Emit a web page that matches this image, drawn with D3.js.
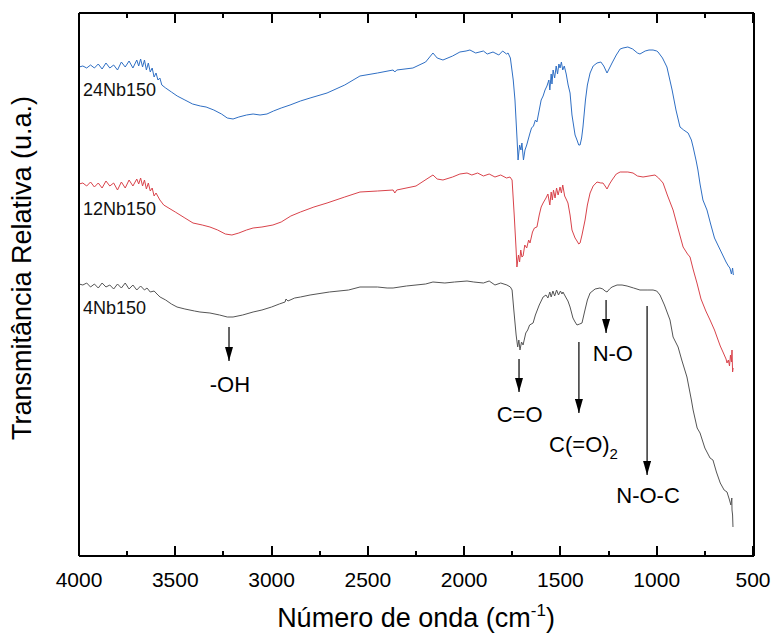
<!DOCTYPE html>
<html>
<head>
<meta charset="utf-8">
<script src="https://cdn.jsdelivr.net/npm/d3@7"></script>
<style>
  html, body { margin: 0; padding: 0; background: #fff; overflow: hidden; }
  svg { display: block; font-family: "Liberation Sans", Arial, sans-serif; }
</style>
</head>
<body>
<svg id="chart" width="773" height="637"></svg>
<script>
// ---------- DATA (wavenumber cm-1, relative transmittance a.u.) ----------
const wn24 = [4000,3980,3960,3940,3920,3900,3880,3860,3840,3820,3800,3780,3760,3740,3720,3700,3690,3680,3670,3660,3650,3640,3630,3620,3610,3600,3590,3580,3570,3550,3520,3490,3450,3410,3370,3340,3300,3260,3230,3200,3170,3130,3096,3060,3024,2990,2950,2904,2850,2800,2712,2620,2541,2450,2369,2360,2350,2266,2200,2162,2140,2110,2060,2022,1990,1970,1940,1900,1880,1850,1820,1800,1780,1772,1760,1745,1736,1725,1720,1712,1705,1700,1692,1684,1675,1668,1658,1650,1640,1630,1622,1610,1600,1590,1580,1570,1560,1555,1548,1544,1538,1530,1522,1515,1508,1502,1495,1488,1480,1470,1460,1450,1440,1424,1414,1405,1398,1390,1383,1370,1360,1346,1330,1310,1290,1275,1258,1245,1232,1210,1190,1175,1150,1125,1100,1087,1060,1040,1019,1000,993,970,947,920,900,879,860,837,820,811,795,786,775,760,739,720,700,680,660,640,628,620,612,606,602];
const t24  = [489,490,488,491,488,492,487,493,488,491,486,494,489,495,488,496,490,497,489,496,486,493,484,488,479,483,476,478,471,468,464,460,456,452,450,449,446,442,438,437,439,441,442,441,442,445,448,451,455,458,463,471,480,483,486,484,486,488,494,503,498,496,500,504,505,506,503,505,502,504,501,505,502,503,498,476,456,416,396,411,406,413,396,406,411,416,423,428,430,436,434,446,456,460,466,470,476,466,482,472,486,478,490,482,492,488,494,486,490,482,471,463,441,421,416,411,411,418,429,456,471,483,490,493,494,490,483,488,493,501,507,508,509,507,503,502,505,506,506,505,504,498,489,466,446,429,426,423,416,409,395,386,372,356,346,332,318,310,302,294,290,288,282,288,281];

const wn12 = [4000,3980,3960,3940,3920,3900,3880,3860,3840,3820,3800,3780,3760,3740,3720,3700,3690,3680,3670,3660,3650,3640,3630,3620,3610,3600,3580,3560,3543,3500,3450,3408,3360,3320,3280,3240,3206,3170,3130,3096,3050,2993,2950,2900,2850,2780,2712,2620,2541,2450,2369,2360,2350,2250,2162,2140,2110,2060,2022,1985,1960,1930,1900,1870,1840,1810,1780,1762,1751,1740,1730,1726,1718,1712,1706,1700,1694,1685,1675,1665,1658,1645,1635,1622,1610,1600,1590,1575,1565,1555,1548,1542,1536,1528,1520,1512,1502,1495,1488,1478,1468,1461,1450,1440,1424,1414,1405,1398,1388,1372,1360,1346,1330,1310,1290,1279,1268,1258,1245,1232,1210,1190,1175,1150,1123,1100,1071,1040,1009,990,967,945,915,890,863,840,827,810,791,770,745,723,700,687,670,656,640,635,628,622,617,612,609,606,603];
const t12  = [372,373,370,374,369,373,368,375,370,373,366,374,368,376,370,377,372,378,370,376,367,373,365,368,360,363,356,351,349,344,338,333,331,329,326,322,321,323,326,328,329,331,334,340,344,349,353,359,364,365,366,363,366,370,381,377,376,379,382,383,381,383,380,382,379,381,378,379,376,341,306,289,301,294,306,299,300,311,308,316,313,324,328,329,341,349,353,358,362,351,364,356,366,358,368,361,369,363,371,360,356,353,341,326,318,315,312,313,321,336,351,363,370,374,373,373,370,367,372,376,382,384,384,384,383,380,379,380,381,378,373,361,346,328,309,302,299,286,273,257,245,236,226,219,210,204,197,193,196,190,201,194,206,184,188];

const wn4 = [4000,3980,3960,3940,3920,3900,3880,3860,3840,3820,3800,3780,3760,3740,3720,3700,3680,3660,3647,3630,3610,3590,3579,3550,3520,3491,3450,3400,3372,3320,3270,3230,3200,3150,3096,3050,3000,2960,2930,2925,2915,2880,2850,2800,2700,2600,2541,2450,2400,2369,2300,2200,2162,2100,2050,1985,1950,1900,1870,1840,1810,1778,1760,1751,1742,1730,1722,1716,1710,1702,1694,1680,1670,1660,1642,1630,1610,1590,1575,1565,1555,1548,1539,1530,1520,1510,1500,1492,1487,1470,1461,1450,1435,1424,1414,1400,1388,1375,1360,1346,1320,1295,1280,1268,1258,1245,1232,1206,1180,1154,1120,1087,1050,1019,1000,983,960,931,915,889,870,843,820,811,790,775,750,723,708,690,670,650,635,622,615,610,609,606,604];
const t4   = [272,271,273,269,272,268,273,269,271,267,272,268,273,267,271,266,270,266,268,264,265,261,259,256,252,249,247,245,244,243,241,239,239,241,244,246,249,252,254,257,255,258,259,261,264,266,269,269,268,268,270,272,274,273,274,275,274,273,275,271,273,271,269,266,246,221,209,216,206,214,211,223,226,231,233,241,251,259,261,258,264,259,265,260,266,261,265,262,264,258,255,249,238,234,231,232,233,244,256,263,267,268,267,265,264,267,269,271,271,270,268,266,266,266,265,261,251,236,219,209,196,179,156,146,128,123,108,98,96,84,73,66,64,56,51,58,46,41,29];

const seriesNames  = ["24Nb150", "12Nb150", "4Nb150"];
const seriesColors = ["#2f6fc4", "#d9434b", "#555555"];
const labelT       = [460, 341, 242];   // label baseline level (a.u.)

const xTicksMajor = [4000,3500,3000,2500,2000,1500,1000,500];
const xTicksMinor = [3750,3250,2750,2250,1750,1250,750];

// annotations: wavenumber of arrow, arrow start/end level, label text, label wn, label level
const annWn      = [3221, 1715, 1404, 1263, 1050];
const annFrom    = [229, 197, 214, 256, 250];
const annTo      = [195, 164, 143, 223, 81];
const annText    = ["-OH", "C=O", "C(=O)", "N-O", "N-O-C"];
const annSub     = ["", "", "2", "", ""];
const annLabelWn = [3216, 1712, 1380, 1228, 1045];
const annLabelT  = [164, 134, 104, 195, 53];

// ---------- LAYOUT ----------
const svg = d3.select("#chart");
const L = 79, R = 754, T = 13, B = 556;
const x = d3.scaleLinear().domain([4000, 500]).range([L, 753]);
const y = d3.scaleLinear().domain([0, 543]).range([B, T]);

const defs = svg.append("defs");
defs.append("clipPath").attr("id", "clip")
  .append("rect").attr("x", L).attr("y", T).attr("width", R - L).attr("height", B - T);

defs.append("marker").attr("id", "arrow")
  .attr("viewBox", "0 0 14 8").attr("refX", 14).attr("refY", 4)
  .attr("markerWidth", 14).attr("markerHeight", 8).attr("markerUnits", "userSpaceOnUse")
  .attr("orient", "auto")
  .append("path").attr("d", "M0,0 L14,4 L0,8 Z").attr("fill", "#000");

// series
const series = [[wn24, t24], [wn12, t12], [wn4, t4]];
const line = d3.line().x(d => x(d[0])).y(d => y(d[1]));
const g = svg.append("g").attr("clip-path", "url(#clip)");
series.forEach((s, i) => {
  const pts = s[0].map((w, k) => [w, s[1][k]]);
  g.append("path").datum(pts).attr("d", line)
    .attr("fill", "none").attr("stroke", seriesColors[i])
    .attr("stroke-width", 1).attr("stroke-linejoin", "round");
});

// series labels
seriesNames.forEach((n, i) => {
  svg.append("text").attr("x", 83).attr("y", y(labelT[i]))
    .attr("font-size", 18).attr("fill", "#111").text(n);
});

// frame (four explicit sides)
const frame = svg.append("g").attr("stroke", "#000").attr("stroke-width", 2)
  .attr("shape-rendering", "crispEdges");
frame.append("line").attr("x1", L).attr("x2", R).attr("y1", T).attr("y2", T);
frame.append("line").attr("x1", L).attr("x2", R).attr("y1", B).attr("y2", B);
frame.append("line").attr("x1", L).attr("x2", L).attr("y1", T).attr("y2", B);
frame.append("line").attr("x1", R).attr("x2", R).attr("y1", T).attr("y2", B);

// tick marks (inward, bottom and top)
const tickG = svg.append("g").attr("stroke", "#000").attr("stroke-width", 2)
  .attr("shape-rendering", "crispEdges");
function ticks(vals, len) {
  vals.forEach(v => {
    tickG.append("line").attr("x1", x(v)).attr("x2", x(v)).attr("y1", B).attr("y2", B - len);
    tickG.append("line").attr("x1", x(v)).attr("x2", x(v)).attr("y1", T).attr("y2", T + len);
  });
}
ticks(xTicksMajor, 10);
ticks(xTicksMinor, 5);

// tick labels
svg.append("g").selectAll("text").data(xTicksMajor).enter().append("text")
  .attr("x", d => x(d)).attr("y", B + 31).attr("text-anchor", "middle")
  .attr("font-size", 21).attr("fill", "#000").text(d3.format("d"));

// annotations
annWn.forEach((w, i) => {
  svg.append("line").attr("x1", x(w)).attr("x2", x(w))
    .attr("y1", y(annFrom[i])).attr("y2", y(annTo[i]))
    .attr("stroke", "#000").attr("stroke-width", 1.2).attr("marker-end", "url(#arrow)");
  const t = svg.append("text").attr("x", x(annLabelWn[i])).attr("y", y(annLabelT[i]))
    .attr("text-anchor", "middle").attr("font-size", 22).attr("fill", "#000").text(annText[i]);
  if (annSub[i]) {
    t.append("tspan").attr("font-size", 15).attr("dy", 7).text(annSub[i]);
  }
});

// axis titles
const xt = svg.append("text").attr("x", 416).attr("y", 627).attr("text-anchor", "middle")
  .attr("font-size", 27).attr("fill", "#000").text("Número de onda (cm");
xt.append("tspan").attr("font-size", 17).attr("dy", -11).text("-1");
xt.append("tspan").attr("dy", 11).text(")");

svg.append("text").attr("transform", "translate(31,268) rotate(-90)")
  .attr("text-anchor", "middle").attr("font-size", 27).attr("fill", "#000")
  .text("Transmitância Relativa (u.a.)");
</script>
</body>
</html>
